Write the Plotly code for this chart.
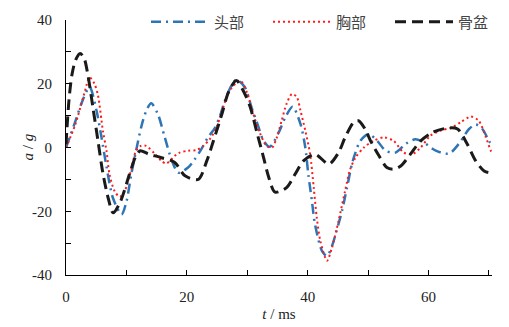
import plotly.graph_objects as go

# ---- data ----
head_t = [0, 1.4, 2.8, 3.9, 5.0, 5.8, 6.7, 7.8, 9.2, 10.0, 10.8, 11.6, 12.5, 13.3, 14.1, 15.2, 16.3, 17.5,
          18.6, 20.2, 21.3, 22.4, 23.5, 24.6, 25.5, 26.3, 27.4, 28.2, 29.6, 30.7, 31.6, 32.7, 33.7, 35.2,
          36.3, 37.5, 38.8, 39.6, 40.1, 40.7, 41.2, 42.4, 43.2, 44.0, 44.8, 45.7, 46.5, 47.3, 47.9, 48.7,
          50.1, 51.5, 52.9, 54.5, 56.2, 57.8, 59.2, 61.2, 63.4, 65.0, 66.7, 67.8, 68.9, 70.0, 70.5]
head_a = [0, 7.4, 15, 19, 12, 4, -6, -16, -21, -17, -8.4, -1, 6.8, 11.6, 13.9, 10.5, 3.5, -4,
          -7.9, -6.3, -3.7, -0.5, 3.2, 6, 10, 14.7, 19.5, 21.3, 18.9, 12.6, 7.9, 2.1, 0.2, 4.7,
          9.5, 12.8, 7.4, 0, -8.4, -16.8, -24, -32.6, -34, -31, -26, -19.7, -12.6, -5.3, -1.6, 2.1,
          4.2, 2.1, -1, -1.6, 1.1, 2.6, 1.6, -1, -1.9, 1.1, 5.8, 7.2, 5.8, 2.1, 0.7]

chest_t = [0, 1.5, 3.1, 3.9, 4.7, 5.3, 6.1, 6.7, 7.2, 8.05, 8.9, 9.7, 10.8, 11.6, 12.4, 13.3, 14.7, 15.8,
           16.6, 18.0, 18.8, 20.2, 21.6, 22.7, 23.8, 24.9, 26.0, 27.1, 28.8, 30.0, 31.0, 32.1, 33.2, 34.1,
           34.9, 35.7, 36.5, 37.4, 38.2, 38.8, 39.6, 40.4, 41.0, 41.5, 42.1, 43.2, 44.0, 45.1, 46.2, 47.0,
           47.9, 49.3, 50.9, 52.6, 54.2, 55.9, 57.3, 58.7, 60.3, 62.0, 63.9, 65.3, 67.0, 68.3, 69.5, 70.3, 70.5]
chest_a = [0, 7, 17.4, 22, 20, 16.3, 5.3, -1, -8.4, -13.7, -15.5, -13.7, -6.8, -1, 0.5, 0.5, -2, -4.2,
           -5, -2.6, -1.6, -1, -0.8, 0.5, 2.6, 6.3, 12.6, 17.9, 21, 17, 10.5, 4.5, 0.5, 0,
           3.2, 8.5, 13.7, 16.8, 15.8, 11.6, 5.3, -2.1, -12.6, -22, -29.4, -35.5, -31.5, -23.1, -13.5, -7,
           -3.2, 0, 2.1, 3.2, 2.1, -1.6, -2.1, 0, 3.7, 5.3, 6.3, 7.9, 9.7, 8.4, 3.2, -1, -1.5]

pelvis_t = [0, 0.5, 1.0, 1.6, 2.35, 3.0, 3.6, 4.5, 5.3, 6.1, 7.0, 7.8, 9.0, 10.5, 11.5, 12.3, 13.6, 15.8,
            18.0, 19.7, 21.9, 23.3, 24.4, 25.8, 26.9, 28.2, 29.6, 30.5, 31.6, 32.7, 33.5, 34.6, 36.5, 37.9,
            39.3, 41.2, 43.5, 45.1, 46.2, 47.6, 48.4, 49.5, 50.4, 51.8, 53.1, 54.2, 55.4, 57.0, 58.7, 60.6,
            63.1, 64.8, 66.4, 67.8, 69.2, 70.0, 70.5]
pelvis_a = [1, 15, 23, 27.5, 29.5, 28, 23, 12, 2, -8, -16, -20.5, -17, -8.4, -3, -1, -2, -3.2,
            -4.7, -8.9, -10, -4.2, 2.1, 10.5, 17.4, 21, 16.8, 12.6, 4.7, -3.2, -9, -14, -12.6, -8.4,
            -4.2, -2.1, -5.2, -1.6, 3.2, 7.9, 8.4, 5.8, 2.1, -2.6, -6.3, -6.8, -5.8, -2.1, 2.1, 4.7,
            6.1, 5.8, 1.1, -4.2, -7.4, -7.9, -7.9]

series_names = ["头部", "胸部", "骨盆"]
x_ticks = [0, 10, 20, 30, 40, 50, 60, 70]
x_tick_labels = ["0", "", "20", "", "40", "", "60", ""]
y_ticks = [-40, -30, -20, -10, 0, 10, 20, 30, 40]
y_tick_labels = ["-40", "", "-20", "", "0", "", "20", "", "40"]

fig = go.Figure()
fig.add_trace(go.Scatter(x=head_t, y=head_a, name=series_names[0], mode="lines",
                         line=dict(color="#2E75B6", width=2.5, dash="10px,5px,2px,5px",
                                   shape="spline", smoothing=0.8)))
fig.add_trace(go.Scatter(x=chest_t, y=chest_a, name=series_names[1], mode="lines",
                         line=dict(color="#FF1A1A", width=2, dash="2px,3px",
                                   shape="spline", smoothing=0.8)))
fig.add_trace(go.Scatter(x=pelvis_t, y=pelvis_a, name=series_names[2], mode="lines",
                         line=dict(color="#1A1A1A", width=3, dash="11px,6px",
                                   shape="spline", smoothing=0.8)))

tickfont = dict(family="Liberation Serif", size=15, color="#222222")
titlefont = dict(family="Liberation Serif", size=15, color="#222222")
fig.update_layout(
    width=509, height=327,
    margin=dict(l=66, r=17, t=20, b=52, autoexpand=False),
    paper_bgcolor="white", plot_bgcolor="white",
    showlegend=True,
    legend=dict(orientation="h", xref="container", yref="container",
                x=146 / 509, xanchor="left", y=1 - 22 / 327, yanchor="middle",
                font=dict(family="Noto Sans CJK SC", size=15, color="#444444"),
                itemwidth=58, bgcolor="rgba(0,0,0,0)", tracegroupgap=0,
                entrywidth=49, entrywidthmode="pixels"),
    xaxis=dict(range=[0, 70.5], tickvals=x_ticks, ticktext=x_tick_labels,
               ticks="inside", ticklen=5, tickcolor="black", showline=True, linecolor="black",
               linewidth=1, showgrid=False, zeroline=False, tickfont=tickfont,
               ticklabelstandoff=8,
               title=dict(text="<i>t</i> / ms", font=titlefont, standoff=4)),
    yaxis=dict(range=[-40, 40], tickvals=y_ticks, ticktext=y_tick_labels,
               ticks="inside", ticklen=5, tickcolor="black", showline=True, linecolor="black",
               linewidth=1, showgrid=False, zeroline=False, tickfont=tickfont,
               ticklabelstandoff=10),
    annotations=[dict(text="<i>a</i> / <i>g</i>", xref="paper", yref="paper",
                      x=(27 - 66) / 426, y=0.5, xanchor="center", yanchor="middle",
                      textangle=-90, showarrow=False, font=titlefont)],
)

fig.write_html("out.html")
